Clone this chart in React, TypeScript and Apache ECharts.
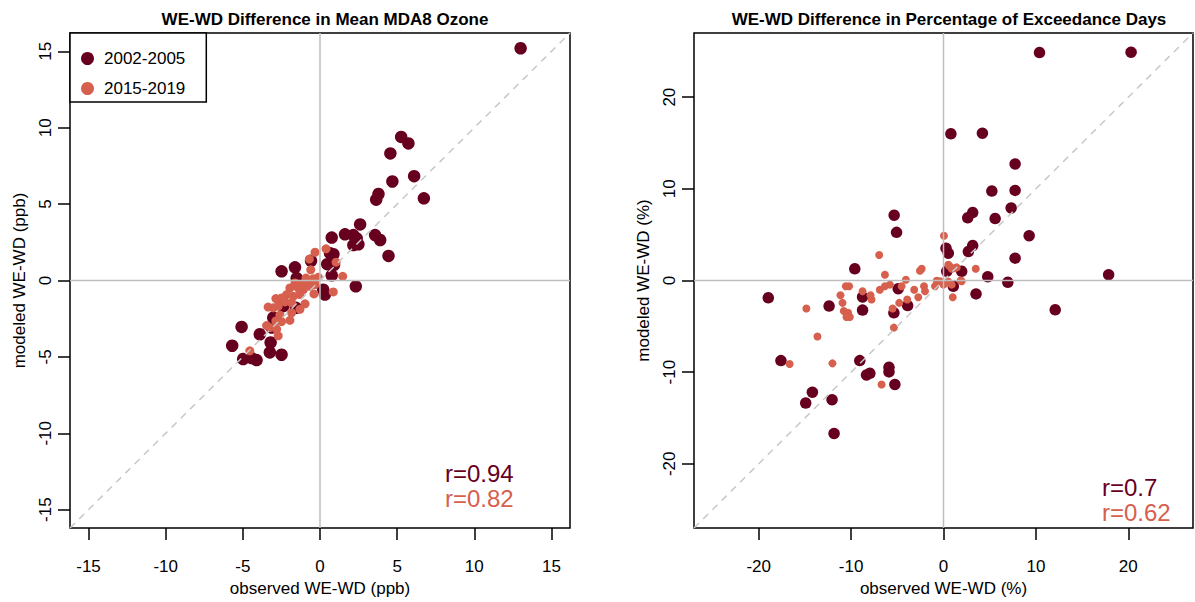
import React, { useEffect, useRef } from "react";
import * as echarts from "echarts";

const DARK = "#67001F";
const ORANGE = "#D6604D";
const FONT = "Liberation Sans";

const seriesNames = ["2002-2005", "2015-2019"];

// Left panel: observed vs modeled WE-WD mean MDA8 ozone (ppb)
const ozone2002: number[][] = [
  [13.0, 15.2],
  [5.26, 9.4], [5.73, 8.97], [4.56, 8.32], [6.1, 6.83], [4.69, 6.48], [3.79, 5.66], [3.64, 5.29], [6.73, 5.38],
  [2.6, 3.67], [1.62, 3.02], [2.16, 2.97], [2.38, 2.76], [2.16, 2.32], [2.49, 2.37], [3.57, 2.97], [3.9, 2.65], [0.76, 2.81],
  [4.44, 1.61], [0.65, 1.79], [0.87, 1.72], [0.47, 1.07], [0.91, 1.03], [0.76, 0.34], [2.32, -0.38], [0.21, -0.6], [0.32, -0.92],
  [-0.58, 1.29], [-2.49, 0.6], [-1.62, 0.86], [-1.51, 0.16],
  [-2.38, -1.68], [-1.56, -1.79], [-3.03, -2.44], [-3.13, -3.08], [-5.08, -3.04], [-3.9, -3.52], [-3.2, -4.06],
  [-5.69, -4.27], [-3.25, -4.71], [-2.49, -4.86], [-4.98, -5.14], [-4.43, -5.08], [-4.11, -5.21],
];
const ozone2015: number[][] = [
  [-0.32, 1.85], [0.39, 2.07], [-0.69, 1.4], [1.04, 1.2], [-0.6, 0.7], [1.47, 0.27], [-0.91, 0.16], [-0.43, 0.12], [-0.11, 0.21],
  [-1.62, -0.16], [-1.19, -0.23], [-0.87, -0.16], [-1.95, -0.49], [-1.41, -0.49], [-1.08, -0.6], [-0.65, -0.38], [-0.32, -0.27],
  [0.86, -0.75], [-0.39, -0.88], [-2.16, -0.92], [-1.73, -1.03], [-1.3, -0.92], [-2.86, -1.18], [-2.49, -1.14], [-2.27, -1.4],
  [-1.84, -1.46], [-0.97, -1.53], [-3.36, -1.74], [-3.03, -1.79], [-2.71, -1.68], [-1.3, -1.89], [-1.84, -2.11], [-2.6, -2.26],
  [-1.95, -2.61], [-2.86, -2.65], [-2.49, -2.69], [-3.46, -2.95], [-3.25, -3.08], [-2.81, -3.19], [-2.71, -3.62], [-4.55, -4.6],
];

// Right panel: observed vs modeled WE-WD percentage of exceedance days (%)
const exceed2002: number[][] = [
  [20.3, 24.9], [10.39, 24.87], [0.8, 16.0], [4.21, 16.07], [7.75, 12.72], [5.23, 9.76], [7.75, 9.83], [3.16, 7.41],
  [2.62, 6.84], [7.32, 7.92], [5.59, 6.76], [9.27, 4.89], [0.27, 3.52], [0.52, 2.98], [3.16, 3.81], [2.69, 3.16],
  [7.75, 2.44], [1.97, 1.0], [0.35, 1.0], [4.79, 0.41], [6.96, -0.2], [17.87, 0.63], [3.52, -1.46], [1.06, -0.63], [12.09, -3.2],
  [-5.34, 7.12], [-5.08, 5.25], [-9.6, 1.28], [-4.9, -0.89], [-8.76, -1.79], [-3.88, -2.73], [-12.38, -2.79], [-8.76, -3.23],
  [-5.37, -3.52], [-18.96, -1.89], [-17.59, -8.74], [-9.06, -8.74], [-8.33, -10.3], [-7.97, -10.12], [-5.9, -9.47],
  [-5.9, -9.97], [-5.26, -11.34], [-14.19, -12.18], [-14.91, -13.37], [-12.06, -13.0], [-11.84, -16.69],
];
const exceed2015: number[][] = [
  [0.05, 4.89], [3.49, 1.28], [0.7, 1.54], [1.25, 1.35], [1.86, 0], [1.0, -1.82], [0, -0.45], [0.89, -0.45],
  [-6.96, 2.79], [-6.34, 0.63], [-2.55, 1.06], [-2.36, 1.28], [-4.07, 0.09], [-0.74, -0.02], [-0.38, -0.09], [0.52, 1.71],
  [0.89, 1.28], [1.43, 1.43], [-10.57, -0.63], [-10.21, -0.63], [-6.89, -1.0], [-6.34, -0.63], [-5.8, -0.45], [-4.53, -0.63],
  [-3.17, -1.0], [-2.11, -0.63], [-2.0, -1.17], [-0.92, -0.63], [0.5, -0.1], [1.97, -0.09], [-11.15, -1.6], [-8.76, -1.17],
  [-7.9, -1.6], [-7.79, -2.08], [-4.79, -2.44], [-3.93, -2.08], [-2.73, -1.82], [-10.93, -2.44], [-10.79, -3.33],
  [-10.32, -3.52], [-10.5, -3.98], [-10.14, -3.98], [-5.51, -3.05], [-5.37, -5.14], [-14.84, -3.05], [-13.64, -6.11],
  [-16.65, -9.11], [-12.02, -9.04], [-6.7, -11.34],
];

const leftTicks = [-15, -10, -5, 0, 5, 10, 15];
const rightTicks = [-20, -10, 0, 10, 20];
const leftLim = 16.2;
const rightLim = 27;

const titles = ["WE-WD Difference in Mean MDA8 Ozone", "WE-WD Difference in Percentage of Exceedance Days"];
const xNames = ["observed WE-WD (ppb)", "observed WE-WD (%)"];
const yNames = ["modeled WE-WD (ppb)", "modeled WE-WD (%)"];
const rLeft = ["r=0.94", "r=0.82"];
const rRight = ["r=0.7", "r=0.62"];

function makeAxis(kind: "x" | "y", idx: number, lim: number, ticks: number[], name: string) {
  return {
    type: "value",
    gridIndex: idx,
    min: -lim,
    max: lim,
    name,
    nameLocation: "middle",
    nameGap: kind === "x" ? 52 : 42,
    nameTextStyle: { fontSize: 17, color: "#000", fontFamily: FONT },
    axisLine: { show: false, onZero: false },
    splitLine: { show: false },
    axisTick: {
      show: true,
      inside: false,
      length: 12,
      customValues: ticks,
      lineStyle: { color: "#000", width: 1.5 },
    },
    axisLabel: {
      show: true,
      customValues: ticks,
      margin: kind === "x" ? 30 : 16,
      fontSize: 17,
      color: "#000",
      fontFamily: FONT,
      rotate: kind === "y" ? 90 : 0,
    },
  };
}

function refLines(idx: number, lim: number) {
  const common = {
    type: "line",
    xAxisIndex: idx,
    yAxisIndex: idx,
    symbol: "none",
    silent: true,
    z: 5,
  };
  return [
    { ...common, data: [[0, -lim], [0, lim]], lineStyle: { color: "#BEBEBE", width: 1.5 } },
    { ...common, data: [[-lim, 0], [lim, 0]], lineStyle: { color: "#BEBEBE", width: 1.5 } },
    { ...common, data: [[-lim, -lim], [lim, lim]], lineStyle: { color: "#C8C8C8", width: 1.5, type: [7, 6] } },
  ];
}

export default function App() {
  const ref = useRef<HTMLDivElement>(null);
  useEffect(() => {
    if (!ref.current) return;
    const chart = echarts.init(ref.current, null, { renderer: "svg" });
    const option: any = {
      animation: false,
      backgroundColor: "#fff",
      textStyle: { fontFamily: FONT },
      title: [
        { text: titles[0], left: 320, top: 6, textAlign: "center", textStyle: { fontSize: 17, fontWeight: "bold", color: "#000", fontFamily: FONT } },
        { text: titles[1], left: 944, top: 6, textAlign: "center", textStyle: { fontSize: 17, fontWeight: "bold", color: "#000", fontFamily: FONT } },
      ],
      legend: {
        left: 70,
        top: 33,
        orient: "vertical",
        backgroundColor: "#fff",
        borderColor: "#000",
        borderWidth: 1.5,
        padding: [17, 21, 5, 11],
        itemGap: 13,
        itemWidth: 13,
        itemHeight: 13,
        icon: "circle",
        z: 10,
        textStyle: { fontSize: 17, lineHeight: 17, color: "#000", fontFamily: FONT, padding: [0, 0, 0, 5] },
        data: seriesNames,
      },
      grid: [
        { left: 70, top: 33, width: 500, height: 507, show: true, borderColor: "#000", borderWidth: 1.5, backgroundColor: "transparent" },
        { left: 694, top: 33, width: 499, height: 507, show: true, borderColor: "#000", borderWidth: 1.5, backgroundColor: "transparent" },
      ],
      xAxis: [
        makeAxis("x", 0, leftLim, leftTicks, xNames[0]),
        makeAxis("x", 1, rightLim, rightTicks, xNames[1]),
      ],
      yAxis: [
        makeAxis("y", 0, leftLim, leftTicks, yNames[0]),
        makeAxis("y", 1, rightLim, rightTicks, yNames[1]),
      ],
      series: [
        { name: seriesNames[0], type: "scatter", xAxisIndex: 0, yAxisIndex: 0, data: ozone2002, symbolSize: 12.5, itemStyle: { color: DARK, opacity: 1 } },
        { name: seriesNames[1], type: "scatter", xAxisIndex: 0, yAxisIndex: 0, data: ozone2015, symbolSize: 9, itemStyle: { color: ORANGE, opacity: 1 } },
        { name: seriesNames[0], type: "scatter", xAxisIndex: 1, yAxisIndex: 1, data: exceed2002, symbolSize: 11.5, itemStyle: { color: DARK, opacity: 1 } },
        { name: seriesNames[1], type: "scatter", xAxisIndex: 1, yAxisIndex: 1, data: exceed2015, symbolSize: 8, itemStyle: { color: ORANGE, opacity: 1 } },
        ...refLines(0, leftLim),
        ...refLines(1, rightLim),
      ],
      graphic: [
        { type: "text", left: 445, top: 461, z: 20, style: { text: rLeft[0], fill: DARK, font: `24px ${FONT}` } },
        { type: "text", left: 445, top: 486, z: 20, style: { text: rLeft[1], fill: ORANGE, font: `24px ${FONT}` } },
        { type: "text", left: 1102, top: 475, z: 20, style: { text: rRight[0], fill: DARK, font: `24px ${FONT}` } },
        { type: "text", left: 1102, top: 500, z: 20, style: { text: rRight[1], fill: ORANGE, font: `24px ${FONT}` } },
      ],
    };
    chart.setOption(option);
    return () => chart.dispose();
  }, []);
  return (
    <div
      ref={ref}
      style={{ position: "fixed", left: 0, top: 0, width: 1195, height: 602, background: "#fff" }}
    />
  );
}
